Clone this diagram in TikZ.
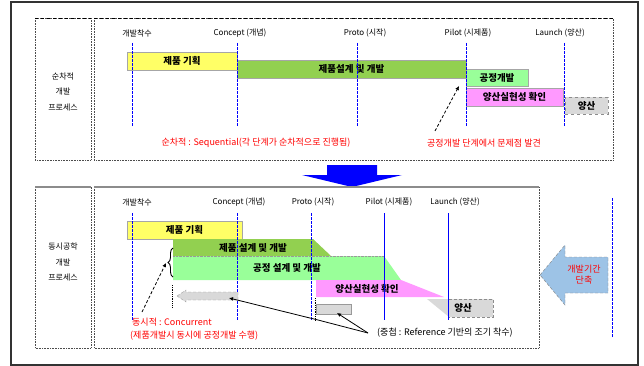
\documentclass[tikz,border=0pt]{standalone}
\usepackage{fontspec}
\setmainfont{Noto Sans CJK KR}
\usetikzlibrary{arrows.meta,decorations.pathreplacing}
\definecolor{cyel}{HTML}{FFFF66}
\definecolor{cgrn}{HTML}{92D050}
\definecolor{clgr}{HTML}{99FF99}
\definecolor{cpnk}{HTML}{FF99FF}
\definecolor{cgry}{HTML}{D9D9D9}
\definecolor{cblu}{HTML}{9DC3E6}
\tikzset{
  lbl/.style={inner sep=0, font=\fontsize{8}{9}\selectfont},
  side/.style={inner sep=0, align=center, font=\fontsize{8}{15.5}\selectfont},
  msline/.style={blue, dash pattern=on 3pt off 1pt, line width=1pt},
  mssolid/.style={blue, line width=1pt},
  bar/.style={draw=black!35, line width=0.4pt, inner sep=0, font=\fontsize{9.5}{11}\selectfont\bfseries},
  btxt/.style={inner sep=0, font=\fontsize{9.5}{11}\selectfont\bfseries},
  redt/.style={inner sep=0, red, font=\fontsize{9}{10}\selectfont},
  blkt/.style={inner sep=0, font=\fontsize{9}{10}\selectfont},
  box/.style={black!70, densely dotted, line width=0.6pt},
  pointer/.style={black, line width=0.8pt, -{Latex[length=4pt,width=4pt]}},
}
\begin{document}
\begin{tikzpicture}[x=1pt,y=-1pt]
\useasboundingbox (0,0) rectangle (644,366);
% outer frame
\draw[black!80, line width=1.2pt] (11,2) rectangle (638,365);

% ================= TOP SECTION =================
\draw[box] (35,18) rectangle (91,160);
\draw[box] (94,18) rectangle (613,160);
\draw[black, dashed, line width=0.6pt] (35,18) -- (91,18) (94,18) -- (613,18);
\node[side] (tl) at (63,92) {순차적\\개발\\프로세스};

% milestone labels
\node[lbl] (ta) at (137,33) {개발착수};
\node[lbl] (tb) at (240,33) {Concept (개념)};
\node[lbl] (tc) at (365,33) {Proto (시작)};
\node[lbl] (td) at (468,33) {Pilot (시제품)};
\node[lbl] (te) at (560,33) {Launch (양산)};

% bars
\node[bar, fill=cyel, minimum width=110, minimum height=18] (p1) at (182,61) {제품 기획};
\node[bar, fill=cgrn, minimum width=229, minimum height=18] (p2) at (351.5,69) {제품설계 및 개발};
\node[bar, fill=clgr, minimum width=62, minimum height=17] (p3) at (497,77.5) {공정개발};
\node[bar, fill=cpnk, minimum width=97, minimum height=18] (p4) at (514.5,97) {양산실현성 확인};
\node[bar, fill=cgry, draw=black!45, dashed, minimum width=43, minimum height=17] (p5) at (586.5,105.5) {양산};

% milestone lines
\draw[msline] (132,43) -- (132,127);
\draw[msline] (237,43) -- (237,127);
\draw[msline] (357,43) -- (357,127);
\draw[msline] (466,43) -- (466,127);
\draw[msline] (564,43) -- (564,127);

% red notes
\node[redt] (r1) at (256,143) {순차적 : Sequential(각 단계가 순차적으로 진행됨)};
\node[redt] (r2) at (484,143) {공정개발 단계에서 문제점 발견};
\coordinate (r2s) at (435,131);
\coordinate (r2e) at (459,86);
\draw[pointer, densely dashed] (r2s) -- (r2e);

% blue down arrow
\fill[blue] (327,165) -- (377,165) -- (377,175) -- (402,175) -- (352,187) -- (302,175) -- (327,175) -- cycle;

% ================= BOTTOM SECTION =================
\draw[box] (35,187) rectangle (91,348);
\draw[box] (94,187) rectangle (539,348);
\draw[black!45, line width=1.3pt] (35,187) -- (91,187) (94,187) -- (539,187);
\node[side] (bl) at (63,262) {동시공학\\개발\\프로세스};

\node[lbl] (ba) at (137,202) {개발착수};
\node[lbl] (bb) at (239,202) {Concept (개념)};
\node[lbl] (bc) at (313,202) {Proto (시작)};
\node[lbl] (bd) at (389,202) {Pilot (시제품)};
\node[lbl] (be) at (455,202) {Launch (양산)};

% bars
\node[bar, fill=cyel, minimum width=115, minimum height=18] (q1) at (184.5,230) {제품 기획};
\fill[cgrn] (173,239) -- (313,239) -- (331,256) -- (173,256) -- cycle;
\draw[black!40, densely dotted] (173,256) -- (331,256);
\node[btxt] (q2) at (253,247.5) {제품 설계 및 개발};
\fill[clgr] (173,256) -- (384,256) -- (401,280) -- (173,280) -- cycle;
\draw[black!40, densely dotted] (173,256) -- (384,256);
\node[btxt] (q3) at (287,268) {공정 설계 및 개발};
\fill[cpnk] (316,280) -- (401,280) -- (444,297) -- (316,297) -- cycle;
\node[btxt] (q4) at (367,288.5) {양산실현성 확인};
\fill[cgry] (427,299) -- (493,299) -- (493,317) -- (449,317) -- cycle;
\draw[black!45, densely dashed] (449,299) -- (493,299) -- (493,317) -- (449,317);
\node[btxt] (q5) at (463,308) {양산};

% milestone lines
\draw[msline] (132,213) -- (132,320);
\draw[msline] (237,213) -- (237,320);
\draw[msline] (311,213) -- (311,320);
\draw[mssolid] (384,213) -- (384,320);
\draw[mssolid] (448,213) -- (448,320);

% gray reference arrows
\filldraw[fill=cgry, draw=black!40, densely dashed] (177,296) -- (186,290) -- (186,292) -- (238,292) -- (238,300) -- (186,300) -- (186,302) -- cycle;
\draw[black, densely dotted, line width=0.8pt] (172,285) -- (172,307);
\filldraw[fill=cgry, draw=black!40] (316,304) rectangle (351,314);
\draw[black, densely dotted, line width=0.8pt] (315,298) -- (315,320);
\coordinate (ga) at (229,298);
\coordinate (gb) at (337,313);

% brace + pointer
\draw[black, line width=0.9pt, decorate, decoration={brace, amplitude=5pt}] (173,277) -- (173,248);
\coordinate (bs) at (142,312);
\coordinate (bt) at (166,263);
\draw[pointer, densely dashed] (bs) -- (bt);

% notes
\node[redt, anchor=west] (r3) at (132,322) {동시적 : Concurrent};
\node[redt, anchor=west] (r4) at (130,336) {(제품개발시 동시에 공정개발 수행)};
\node[blkt, anchor=west] (k1) at (377,333) {(중첩 : Reference 기반의 조기 착수)};
\coordinate (kj) at (368,333);
\coordinate (kk) at (318,320);
\draw[pointer] (kj) -- (kk) -- (ga);
\draw[pointer] (kj) -- (gb);

% big left arrow
\filldraw[fill=cblu, draw=black!50, densely dashed] (540,275) -- (565,245) -- (565,257) -- (608,257) -- (608,293) -- (565,293) -- (565,305) -- cycle;
\node[inner sep=0, red, align=center, font=\fontsize{9}{11}\selectfont] (sh) at (584,275) {개발기간\\단축};

% right dashed blue line
\draw[msline] (612,198) -- (612,337);
\end{tikzpicture}
\end{document}
